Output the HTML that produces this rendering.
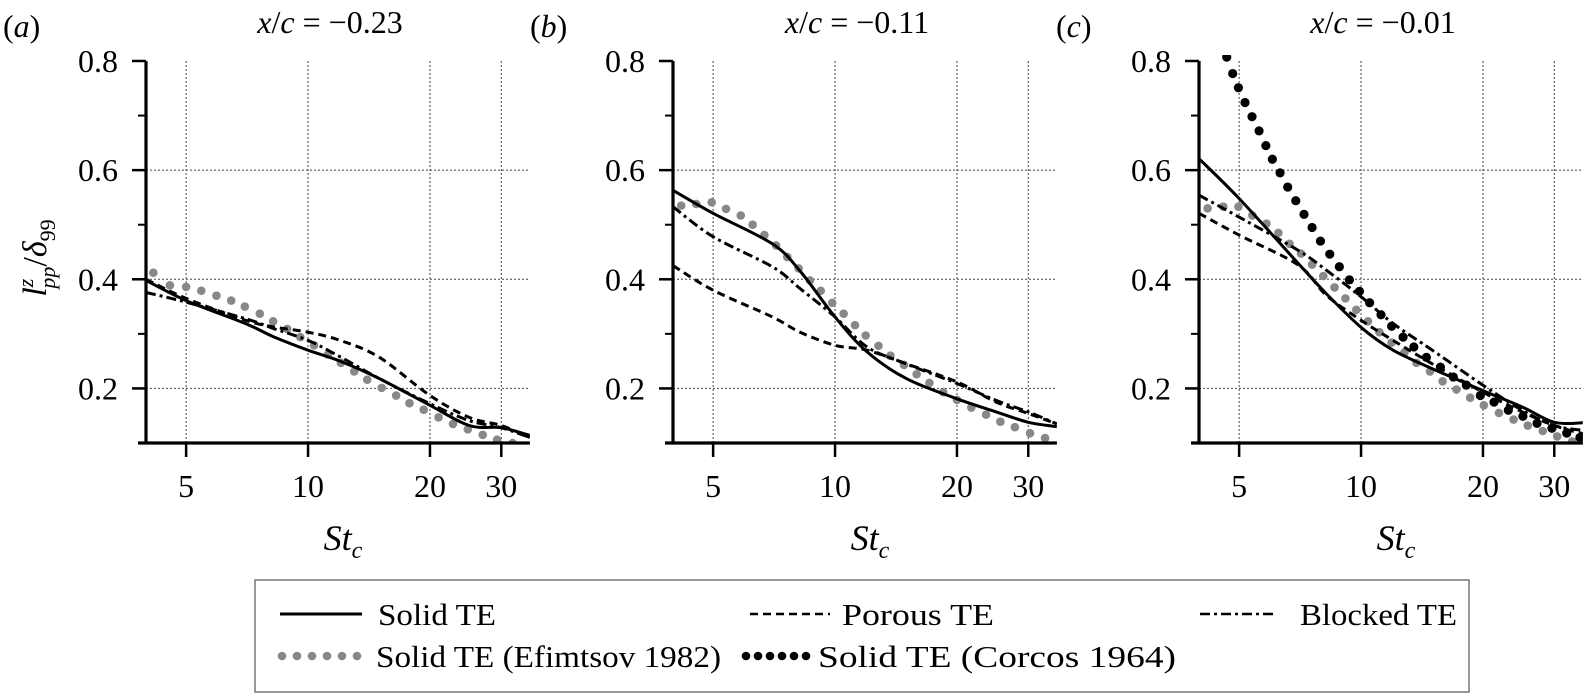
<!DOCTYPE html>
<html><head><meta charset="utf-8">
<style>
html,body{margin:0;padding:0;background:#fff;font-family:"Liberation Serif","Times New Roman",Times,serif;}
svg{display:block;font-family:"Liberation Serif","Times New Roman",Times,serif;}
text{font-family:"Liberation Serif","Times New Roman",Times,serif;}
</style></head>
<body>
<svg id="chart" width="1583" height="693" viewBox="0 0 1583 693" xmlns="http://www.w3.org/2000/svg">
<g id="panels"></g>
<g id="ylabel">
 <text style="font-family:'Liberation Serif',Times,serif" transform="translate(46,258) rotate(-90)" font-size="34" text-anchor="middle"><tspan font-style="italic">l</tspan><tspan font-size="22" dy="-13" font-style="italic">z</tspan><tspan font-size="22" dx="-10" dy="22" font-style="italic">pp</tspan><tspan dy="-9">/</tspan><tspan font-style="italic">δ</tspan><tspan font-size="22" dy="9">99</tspan></text>
</g>
<g id="legend">
 <rect x="255" y="580" width="1214" height="112" fill="#fff" stroke="#777" stroke-width="1.5"/>
 <g>
  <line x1="280" y1="614" x2="362" y2="614" stroke="#000" stroke-width="3"/>
  <text style="font-family:'Liberation Serif',Times,serif" x="378" y="625" font-size="31" textLength="118" lengthAdjust="spacingAndGlyphs">Solid TE</text></g>
 <g>
  <line x1="750" y1="614" x2="830" y2="614" stroke="#000" stroke-width="2.5" stroke-dasharray="8,5"/>
  <text style="font-family:'Liberation Serif',Times,serif" x="842" y="625" font-size="31" textLength="152" lengthAdjust="spacingAndGlyphs">Porous TE</text></g>
 <g>
  <line x1="1200" y1="614" x2="1275" y2="614" stroke="#000" stroke-width="2.5" stroke-dasharray="10,4,3,4"/>
  <text style="font-family:'Liberation Serif',Times,serif" x="1300" y="625" font-size="31" textLength="157" lengthAdjust="spacingAndGlyphs">Blocked TE</text></g>
 <g fill="#888">
  <circle cx="282" cy="656" r="4.3"/><circle cx="297" cy="656" r="4.3"/><circle cx="312" cy="656" r="4.3"/><circle cx="327" cy="656" r="4.3"/><circle cx="342" cy="656" r="4.3"/><circle cx="357" cy="656" r="4.3"/>
  <text style="font-family:'Liberation Serif',Times,serif" x="376" y="667" font-size="31" fill="#000" textLength="345" lengthAdjust="spacingAndGlyphs">Solid TE (Efimtsov 1982)</text></g>
 <g fill="#000">
  <circle cx="746" cy="656" r="4.3"/><circle cx="758" cy="656" r="4.3"/><circle cx="770" cy="656" r="4.3"/><circle cx="782" cy="656" r="4.3"/><circle cx="794" cy="656" r="4.3"/><circle cx="806" cy="656" r="4.3"/>
  <text style="font-family:'Liberation Serif',Times,serif" x="818" y="667" font-size="31" textLength="358" lengthAdjust="spacingAndGlyphs">Solid TE (Corcos 1964)</text></g>
</g>
</svg>
<script>
// ---- data ----
const panelLetters = ["(a)", "(b)", "(c)"];
const panelTitles = ["−0.23", "−0.11", "−0.01"];
const xTicks = [5, 10, 20, 30];
const yTicks = [0.2, 0.4, 0.6, 0.8];
const yMinor = [0.3, 0.5, 0.7];
const curveSt = [3.98, 5, 7, 8.2, 10, 12, 15, 20, 25, 30, 35.3];
const solidA = [0.398, 0.361, 0.319, 0.295, 0.270, 0.250, 0.218, 0.169, 0.132, 0.128, 0.114];
const porousA = [0.400, 0.365, 0.325, 0.313, 0.303, 0.288, 0.257, 0.187, 0.147, 0.132, 0.110];
const blockedA = [0.376, 0.358, 0.328, 0.310, 0.288, 0.258, 0.218, 0.172, 0.141, 0.128, 0.110];
const solidB = [0.563, 0.521, 0.465, 0.415, 0.331, 0.267, 0.218, 0.181, 0.157, 0.138, 0.130];
const porousB = [0.425, 0.380, 0.331, 0.303, 0.279, 0.270, 0.245, 0.212, 0.175, 0.154, 0.135];
const blockedB = [0.533, 0.478, 0.423, 0.383, 0.331, 0.276, 0.245, 0.209, 0.178, 0.157, 0.135];
const solidC = [0.621, 0.548, 0.429, 0.374, 0.312, 0.270, 0.236, 0.196, 0.166, 0.138, 0.137];
const porousC = [0.521, 0.481, 0.426, 0.371, 0.325, 0.288, 0.245, 0.193, 0.157, 0.132, 0.117];
const blockedC = [0.554, 0.514, 0.453, 0.417, 0.368, 0.319, 0.270, 0.206, 0.160, 0.132, 0.123];
const efimStA = [4.15,4.56,5.0,5.45,5.94,6.46,6.98,7.6,8.2,8.88,9.57,10.35,11.2,12.05,13.0,14.0,15.2,16.5,17.8,19.3,21.0,22.8,24.8,27.0,29.3,32.0];
const efimA = [0.412,0.389,0.386,0.379,0.370,0.361,0.350,0.337,0.323,0.309,0.294,0.279,0.262,0.247,0.231,0.216,0.201,0.187,0.173,0.161,0.147,0.135,0.125,0.115,0.106,0.100];
const efimStB = [4.17,4.54,4.96,5.38,5.85,6.26,6.69,7.15,7.62,8.13,8.67,9.22,9.84,10.5,11.2,11.9,12.8,13.7,14.8,15.9,17.1,18.5,20.0,21.7,23.6,25.6,27.8,30.3,33.0];
const efimB = [0.535,0.538,0.541,0.529,0.517,0.500,0.481,0.462,0.441,0.420,0.398,0.379,0.357,0.337,0.316,0.297,0.278,0.260,0.243,0.226,0.210,0.193,0.179,0.165,0.152,0.139,0.129,0.118,0.109];
const efimStC = [4.18,4.57,4.98,5.39,5.84,6.25,6.66,7.11,7.57,8.07,8.60,9.15,9.73,10.4,11.1,11.9,12.8,13.7,14.8,15.9,17.2,18.6,20.1,21.9,23.8,25.8,28.1,30.5,33.2];
const efimC = [0.530,0.533,0.533,0.517,0.502,0.485,0.465,0.447,0.427,0.406,0.385,0.365,0.344,0.323,0.303,0.284,0.266,0.247,0.231,0.213,0.198,0.183,0.169,0.155,0.143,0.132,0.122,0.112,0.103];
const corcosStC = [4.66,4.82,4.98,5.17,5.38,5.60,5.82,6.04,6.31,6.59,6.90,7.23,7.57,7.94,8.37,8.84,9.36,9.91,10.5,11.2,11.9,12.7,13.5,14.5,15.7,16.9,18.2,19.7,21.3,23.1,25.1,27.2,29.6,32.2,34.7];
const corcosC = [0.807,0.777,0.751,0.724,0.698,0.672,0.645,0.620,0.595,0.569,0.544,0.519,0.495,0.470,0.446,0.423,0.399,0.378,0.357,0.335,0.314,0.294,0.276,0.257,0.239,0.221,0.206,0.187,0.175,0.160,0.149,0.136,0.127,0.118,0.110];

const panelLeft = [146, 673, 1199];
const solids = [solidA, solidB, solidC], poros = [porousA, porousB, porousC], blocks = [blockedA, blockedB, blockedC];
const efimSt = [efimStA, efimStB, efimStC], efims = [efimA, efimB, efimC];

const NS = "http://www.w3.org/2000/svg";
const FONT = "font-family:'Liberation Serif',Times,serif";
const X_MIN = 3.98, X_MAX = 35.3, DEC = 405, TOP = 61, BOT = 443, Y_MAX = 0.8, Y_MIN = 0.1;
const W = Math.log10(X_MAX / X_MIN) * DEC;
function xs(L, v) { return L + Math.log10(v / X_MIN) * DEC; }
function ys(v) { return TOP + (Y_MAX - v) / (Y_MAX - Y_MIN) * (BOT - TOP); }
function mk(tag, attrs, parent) { const e = document.createElementNS(NS, tag); for (const k in attrs) e.setAttribute(k, attrs[k]); if (tag === "text") e.setAttribute("style", FONT); parent.appendChild(e); return e; }
function smooth(pts) {
  let d = "M" + pts[0][0].toFixed(1) + "," + pts[0][1].toFixed(1);
  for (let i = 0; i < pts.length - 1; i++) {
    const p0 = pts[Math.max(0, i - 1)], p1 = pts[i], p2 = pts[i + 1], p3 = pts[Math.min(pts.length - 1, i + 2)];
    const c1 = [p1[0] + (p2[0] - p0[0]) / 6, p1[1] + (p2[1] - p0[1]) / 6];
    const c2 = [p2[0] - (p3[0] - p1[0]) / 6, p2[1] - (p3[1] - p1[1]) / 6];
    d += " C" + c1[0].toFixed(1) + "," + c1[1].toFixed(1) + " " + c2[0].toFixed(1) + "," + c2[1].toFixed(1) + " " + p2[0].toFixed(1) + "," + p2[1].toFixed(1);
  }
  return d;
}
const root = document.getElementById("panels");
for (let p = 0; p < 3; p++) {
  const L = panelLeft[p];
  const g = mk("g", {}, root);
  
  
  const cp = mk("clipPath", { id: "clip" + p }, g);
  mk("rect", { x: L, y: TOP - 6, width: W, height: BOT - TOP + 6 }, cp);
  const lt = mk("text", { x: L - 143, y: 37, "font-size": 32 }, g);
  lt.innerHTML = '(<tspan font-style="italic">' + "abc"[p] + '</tspan>)';
  
  
  const tt = mk("text", { x: L + 184, y: 33, "font-size": 32, "text-anchor": "middle" }, g);
  tt.innerHTML = '<tspan font-style="italic">x</tspan>/<tspan font-style="italic">c</tspan> = ' + panelTitles[p];
  
  
  xTicks.forEach(t => {
    const gl = mk("line", { x1: xs(L, t), x2: xs(L, t), y1: TOP, y2: BOT, stroke: "#444", "stroke-width": 1, "stroke-dasharray": "2,2" }, g);
    
    
    const tk = mk("line", { x1: xs(L, t), x2: xs(L, t), y1: BOT, y2: BOT + 14, stroke: "#000", "stroke-width": 2.5 }, g);
    
    
    const tl = mk("text", { x: xs(L, t), y: 497, "font-size": 32, "text-anchor": "middle" }, g);
    tl.textContent = t;
    
    
  });
  yTicks.forEach(t => {
    if (t < 0.8) {
      const gl = mk("line", { x1: L, x2: L + W, y1: ys(t), y2: ys(t), stroke: "#444", "stroke-width": 1, "stroke-dasharray": "2,2" }, g);
      
      
    }
    const tk = mk("line", { x1: L - 14, x2: L, y1: ys(t), y2: ys(t), stroke: "#000", "stroke-width": 2.5 }, g);
    
    
    const tl = mk("text", { x: L - 28, y: ys(t) + 11, "font-size": 32, "text-anchor": "end" }, g);
    tl.textContent = t.toFixed(1);
    
    
  });
  yMinor.forEach(t => {
    const tk = mk("line", { x1: L - 8, x2: L, y1: ys(t), y2: ys(t), stroke: "#000", "stroke-width": 2 }, g);
    
    
  });
  const xl = mk("text", { x: L + 197, y: 550, "font-size": 36, "text-anchor": "middle", "font-style": "italic" }, g);
  xl.innerHTML = 'St<tspan font-size="24" dy="8">c</tspan>';
  
  
  const sg = mk("g", { "clip-path": "url(#clip" + p + ")" }, g);
  const e = mk("g", { fill: "#888" }, sg);
  
  
  efimSt[p].forEach((s, i) => {
    const c = mk("circle", { cx: xs(L, s), cy: ys(efims[p][i]), r: 4.3 }, e);
    
    
  });
  if (p === 2) {
    const cg = mk("g", { fill: "#000" }, sg);
    
    
    corcosStC.forEach((s, i) => {
      const c = mk("circle", { cx: xs(L, s), cy: ys(corcosC[i]), r: 4.6 }, cg);
      
      
    });
  }
  const defs = [[solids[p], "none", "solid-te-line"], [poros[p], "8,5", "porous-te-line"], [blocks[p], "10,4,3,4", "blocked-te-line"]];
  defs.forEach(([vals, dash, name]) => {
    const pts = curveSt.map((s, i) => [xs(L, s), ys(vals[i])]);
    const path = mk("path", { d: smooth(pts), fill: "none", stroke: "#000", "stroke-width": 3 }, sg);
    if (dash !== "none") path.setAttribute("stroke-dasharray", dash);
    
    
  });
  const ax = mk("line", { x1: L, x2: L, y1: TOP, y2: BOT + 1, stroke: "#000", "stroke-width": 3.2 }, g);
  
  
  const bx = mk("line", { x1: L - 8, x2: L + W, y1: BOT, y2: BOT, stroke: "#000", "stroke-width": 3.2 }, g);
  
  
}
</script>
</body></html>
